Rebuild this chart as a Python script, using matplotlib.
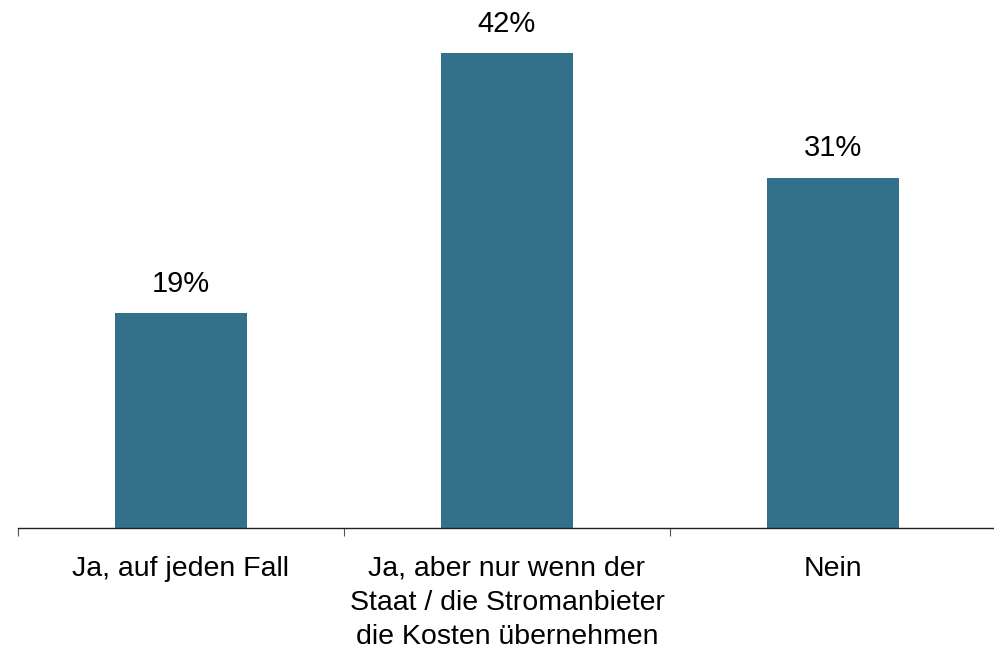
import matplotlib.pyplot as plt
import numpy as np

plt.rcParams["font.family"] = ["Liberation Sans", "DejaVu Sans"]

categories = [
    "Ja, auf jeden Fall",
    "Ja, aber nur wenn der\nStaat / die Stromanbieter\ndie Kosten übernehmen",
    "Nein",
]
shares = [19, 42, 31]
bar_color = "#33718a"

fig = plt.figure(figsize=(9.94, 6.49), dpi=100)
ax = fig.add_axes([18 / 994, 121 / 649, 978 / 994, 528 / 649])

x = np.arange(len(categories))
bars = ax.bar(x, shares, width=0.405, color=bar_color)
ax.bar_label(bars, labels=[f"{v}%" for v in shares], padding=11, fontsize=21)

ax.set_xlim(-0.5, len(categories) - 0.5)
ax.set_ylim(0, 46.7)
ax.set_yticks([])
ax.set_xticks(np.arange(len(categories) + 1) - 0.5, minor=False)
ax.set_xticklabels([])
ax.set_xticks(x, minor=True)
ax.set_xticklabels(categories, minor=True, fontsize=20.5, linespacing=1.4)
ax.tick_params(axis="x", which="major", direction="out", length=6, width=0.8, color="#555555")
ax.tick_params(axis="x", which="minor", length=0, pad=20)

for side in ["top", "left", "right"]:
    ax.spines[side].set_visible(False)
ax.spines["bottom"].set_color("#222222")
ax.spines["bottom"].set_linewidth(1.0)

fig.savefig("out.png", dpi=100)
